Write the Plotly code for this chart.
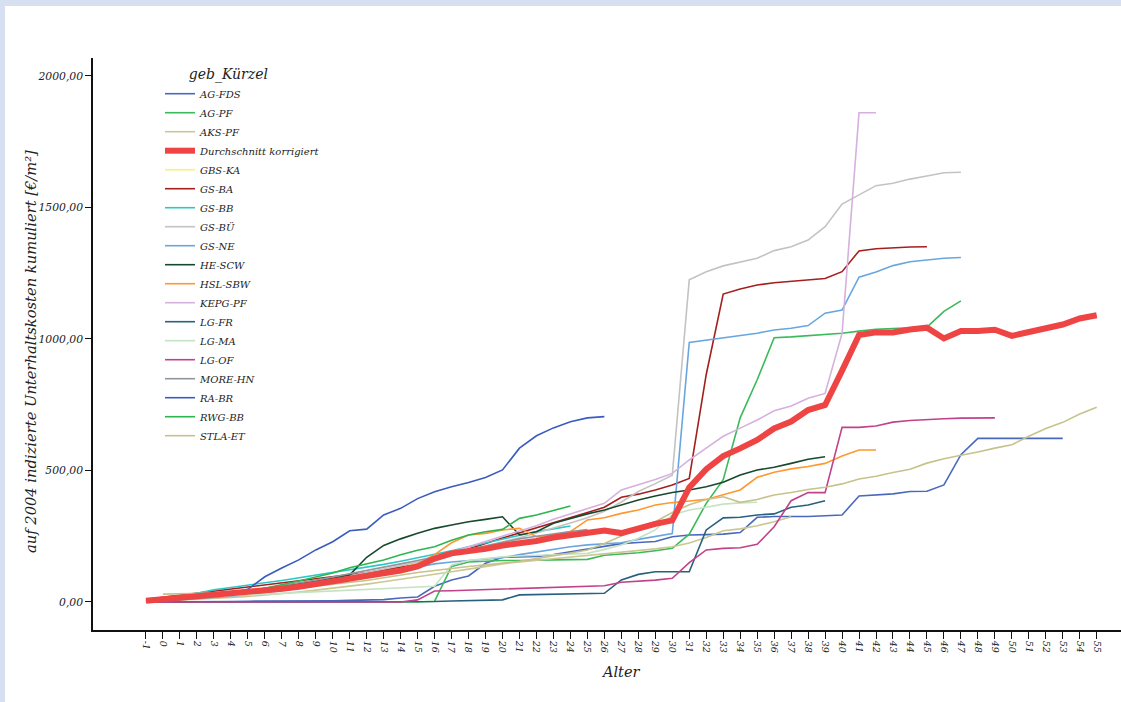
import plotly.graph_objects as go

ages = list(range(-1, 56))
tick_labels = [str(a) for a in ages]
y_ticks = [0, 500, 1000, 1500, 2000]

AG_FDS = [0, 0, 1, 1, 2, 2, 3, 3, 4, 4, 5, 5, 6, 7, 9, 15, 19, 60, 84, 99, 147, 170, 172, 173, 180, 190, 200, 210,
          222, 226, 230, 248, 255, 256, 258, 264, 322, 325, 325, 325, 328, 331, 403, 407, 411, 420, 421, 445, 560,
          622, 622, 622, 622, 622, 622]
AG_PF = [0, 0, 0, 0, 0, 0, 0, 0, 0, 0, 0, 0, 0, 0, 0, 0, 0, 3, 135, 152, 155, 158, 158, 158, 160, 161, 162, 178, 182,
         187, 195, 204, 258, 375, 465, 700, 845, 1005, 1008, 1012, 1016, 1022, 1030, 1037, 1040, 1043, 1045, 1105, 1145]
AKS_PF = [0, 3, 6, 9, 13, 17, 21, 26, 32, 38, 45, 52, 60, 68, 77, 86, 95, 105, 115, 125, 135, 145, 152, 158, 164,
          170, 176, 182, 188, 195, 202, 210, 224, 245, 271, 278, 290, 305, 324]
AVG = [5, 10, 15, 20, 25, 30, 35, 42, 50, 58, 68, 78, 90, 100, 110, 120, 135, 165, 185, 192, 202, 215, 222, 232, 245,
       255, 262, 272, 262, 280, 297, 310, 435, 505, 555, 584, 616, 660, 686, 730, 749, 880, 1015, 1025, 1025, 1036,
       1043, 1002, 1030, 1030, 1035, 1012, 1027, 1045, 1055, 1078, 1090]
GBS_KA = [2, 6, 11, 17, 23, 30, 37, 45, 54, 64, 75, 86, 98, 110, 122, 135, 150, 165, 178, 190, 200, 210]
GS_BA = [10, 18, 25, 32, 40, 48, 57, 65, 73, 80, 88, 95, 103, 112, 122, 132, 142, 160, 180, 200, 222, 243, 262, 281,
         300, 320, 340, 360, 398, 410, 426, 445, 470, 865, 1171, 1190, 1205, 1214, 1220, 1226, 1230, 1256, 1335,
         1343, 1347, 1350, 1351]
GS_BB = [2, 8, 20, 32, 46, 55, 65, 73, 82, 92, 102, 112, 122, 132, 143, 155, 168, 180, 195, 210, 225, 240, 255, 268,
         278, 289]
GS_BU = [3, 8, 13, 19, 25, 32, 40, 48, 57, 67, 77, 88, 100, 112, 125, 138, 152, 167, 182, 197, 212, 228, 244, 262,
         280, 300, 320, 345, 380, 420, 450, 482, 1225, 1256, 1278, 1293, 1307, 1336, 1351, 1376, 1427, 1513, 1548,
         1583, 1592, 1608, 1620, 1632, 1634]
GS_NE = [0, 4, 8, 12, 17, 22, 28, 35, 43, 52, 62, 72, 83, 95, 108, 120, 133, 145, 152, 158, 162, 168, 180, 190, 200,
         210, 217, 220, 225, 238, 250, 260, 987, 996, 1005, 1012, 1022, 1034, 1041, 1051, 1098, 1110, 1235, 1255,
         1279, 1294, 1300, 1307, 1310]
HE_SCW = [3, 8, 14, 20, 27, 35, 43, 52, 60, 70, 80, 90, 103, 170, 215, 240, 261, 280, 293, 305, 314, 324, 255, 267,
          299, 318, 335, 350, 369, 388, 403, 416, 426, 438, 455, 483, 502, 512, 527, 543, 552]
HSL_SBW = [2, 6, 10, 15, 20, 26, 32, 39, 47, 55, 64, 74, 85, 97, 110, 125, 145, 180, 225, 255, 261, 274, 280, 248,
           255, 267, 312, 320, 337, 350, 369, 378, 384, 390, 408, 426, 474, 493, 506, 515, 527, 555, 578, 578]
KEPG_PF = [0, 5, 10, 15, 20, 26, 32, 39, 47, 55, 64, 74, 85, 96, 108, 120, 135, 160, 190, 210, 228, 248, 268, 290,
           315, 335, 355, 375, 426, 445, 466, 489, 540, 585, 630, 661, 692, 727, 745, 775, 793, 1021, 1860, 1860]
LG_FR = [0, 0, 0, 0, 0, 0, 0, 0, 0, 0, 0, 0, 0, 0, 0, 0, 1, 2, 4, 5, 6, 8, 27, 28, 29, 30, 31, 33, 84, 105, 115,
         115, 115, 274, 320, 322, 331, 335, 360, 369, 385]
LG_MA = [5, 10, 14, 18, 21, 24, 27, 30, 33, 36, 39, 42, 45, 48, 51, 54, 57, 60, 141, 158, 165, 172, 175, 178, 180,
         182, 185, 200, 217, 242, 274, 331, 350, 360, 372, 377, 379]
LG_OF = [0, 0, 0, 0, 0, 0, 0, 0, 0, 0, 0, 0, 0, 0, 0, 0, 8, 42, 43, 45, 47, 48, 50, 52, 55, 57, 59, 62, 75, 78, 83,
         90, 150, 198, 204, 206, 219, 286, 385, 416, 416, 664, 664, 669, 684, 690, 694, 697, 699, 700, 700]
MORE_HN = [5, 10, 16, 22, 28, 35, 43, 52, 62, 72, 83, 95, 107, 120, 132, 145, 158, 172, 185, 200, 213, 226, 240,
           250, 260, 268, 275]
RA_BR = [2, 5, 10, 17, 25, 34, 48, 96, 129, 160, 198, 229, 271, 277, 331, 356, 393, 419, 438, 454, 473, 502, 585,
         632, 662, 685, 700, 705]
RWG_BB = [0, 3, 10, 18, 25, 32, 40, 52, 65, 80, 95, 110, 130, 145, 160, 180, 197, 210, 235, 255, 267, 276, 318, 331,
          347, 365]
STLA_ET = [None, 30, 31, 32, 33, 35, 38, 42, 47, 53, 60, 67, 74, 82, 92, 103, 112, 120, 128, 135, 141, 147, 155, 165,
           175, 186, 198, 222, 251, 286, 305, 340, 370, 390, 400, 379, 390, 407, 416, 428, 436, 449, 468, 478, 492,
           505, 528, 545, 558, 570, 585, 598, 630, 660, 683, 715, 740]

series = [
    ("AG-FDS", AG_FDS, "#4a69bd", 1.6),
    ("AG-PF", AG_PF, "#3cb95a", 1.6),
    ("AKS-PF", AKS_PF, "#cbc792", 1.6),
    ("Durchschnitt korrigiert", AVG, "#ef4444", 6),
    ("GBS-KA", GBS_KA, "#f6f272", 1.6),
    ("GS-BA", GS_BA, "#a3201f", 1.6),
    ("GS-BB", GS_BB, "#2fc6c6", 1.6),
    ("GS-BÜ", GS_BU, "#c3c3c3", 1.6),
    ("GS-NE", GS_NE, "#6aa6de", 1.6),
    ("HE-SCW", HE_SCW, "#17492c", 1.6),
    ("HSL-SBW", HSL_SBW, "#ff982e", 1.6),
    ("KEPG-PF", KEPG_PF, "#d6b0de", 1.6),
    ("LG-FR", LG_FR, "#27617c", 1.6),
    ("LG-MA", LG_MA, "#c4e3c2", 1.6),
    ("LG-OF", LG_OF, "#c2418b", 1.6),
    ("MORE-HN", MORE_HN, "#8f979e", 1.6),
    ("RA-BR", RA_BR, "#3a5bbf", 1.6),
    ("RWG-BB", RWG_BB, "#2fb54f", 1.6),
    ("STLA-ET", STLA_ET, "#c7c28c", 1.6),
]

FONT = "DejaVu Serif"
TXT = "#222"

fig = go.Figure()
order = [i for i in range(len(series)) if series[i][0] != "Durchschnitt korrigiert"] + \
        [i for i in range(len(series)) if series[i][0] == "Durchschnitt korrigiert"]
for i in order:
    name, vals, color, w = series[i]
    fig.add_trace(go.Scatter(
        x=ages[:len(vals)], y=vals, mode="lines", name=name,
        line=dict(color=color, width=w), legendrank=i + 1,
    ))

# page offset of the figure (body margin set below)
OX, OY = 5, 6
W, H = 1121 - OX, 702 - OY
# plot area in page pixels
PL, PR, PT, PB = 93, 1121, 58, 630
ml, mr, mt, mb = PL - OX, OX + W - PR, PT - OY, OY + H - PB
pw, ph = PR - PL, PB - PT


def px_x(p):
    return (p - PL) / pw


def px_y(p):
    return (PB - p) / ph


fig.add_annotation(text="auf 2004 indizierte Unterhaltskosten kumuliert [€/m²]",
                   xref="paper", yref="paper", x=px_x(30), y=px_y(352),
                   xanchor="center", yanchor="middle", textangle=-90, showarrow=False,
                   font=dict(family=FONT, size=14.7, style="italic", color=TXT))
fig.add_annotation(text="Alter", xref="paper", yref="paper", x=px_x(621), y=px_y(672),
                   xanchor="center", yanchor="middle", showarrow=False,
                   font=dict(family=FONT, size=14.5, style="italic", color=TXT))

fig.update_layout(
    width=W, height=H,
    margin=dict(l=ml, r=mr, t=mt, b=mb, pad=0),
    paper_bgcolor="white", plot_bgcolor="white",
    separators=",.",
    font=dict(family=FONT, style="italic", color=TXT),
    showlegend=True,
    legend=dict(
        x=px_x(160), y=px_y(61), xanchor="left", yanchor="top",
        bgcolor="rgba(0,0,0,0)",
        font=dict(family=FONT, size=10, style="italic", color=TXT),
        title=dict(text="\u00a0" * 6 + "geb_Kürzel", side="top",
                   font=dict(family=FONT, size=14, style="italic", color=TXT)),
        tracegroupgap=0,
    ),
    xaxis=dict(
        range=[-4.12, 56.43], tickmode="array", tickvals=ages, ticktext=tick_labels,
        tickangle=90, ticks="outside", ticklen=7, tickcolor="#111", tickwidth=1.2,
        showline=True, linecolor="#111", linewidth=1.5, showgrid=False, zeroline=False,
        tickfont=dict(family=FONT, size=9.5, style="italic", color=TXT),
    ),
    yaxis=dict(
        range=[-106.5, 2068.4], tickmode="array", tickvals=y_ticks, tickformat=".2f",
        ticks="outside", ticklen=6, tickcolor="#111", tickwidth=1.2,
        showline=True, linecolor="#111", linewidth=1.5, showgrid=False, zeroline=False,
        tickfont=dict(family=FONT, size=10.8, style="italic", color=TXT),
    ),
)

post = ("document.body.style.background='#d6e0f1';"
        "document.body.style.margin='%dpx 0 0 %dpx';"
        "document.body.style.overflow='hidden';" % (OY, OX))
fig.write_html("out.html", post_script=post)
